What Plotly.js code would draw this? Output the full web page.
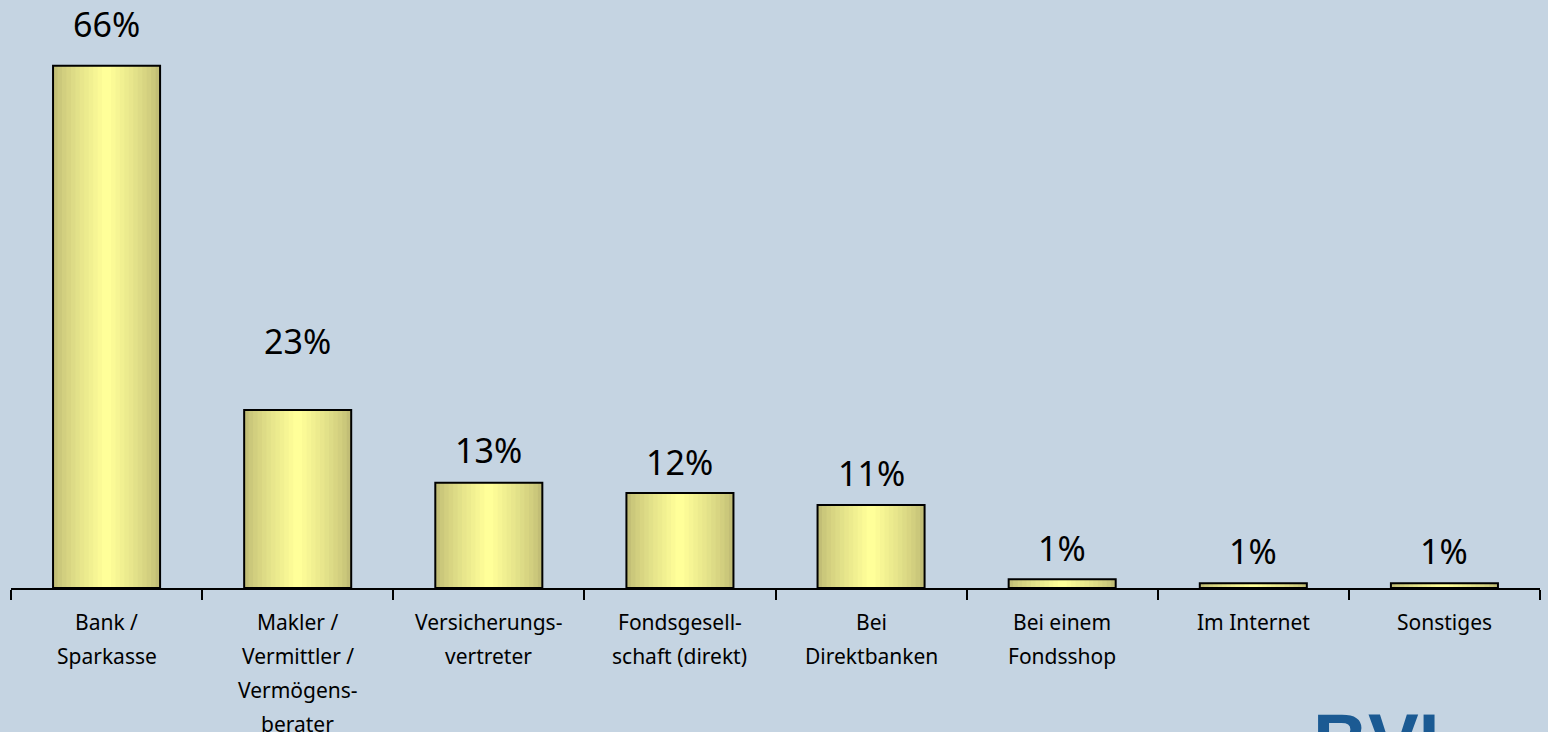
<!DOCTYPE html>
<html>
<head>
<meta charset="utf-8">
<script src="https://cdn.plot.ly/plotly-3.0.1.min.js"></script>
<style>
  html, body { margin: 0; padding: 0; background: #C5D4E2; }
  #chart { width: 1548px; height: 732px; }
</style>
</head>
<body>
<div id="chart"></div>
<script>
// ---- data ----
var categories = [
  "Bank /<br>Sparkasse",
  "Makler /<br>Vermittler /<br>Vermögens-<br>berater",
  "Versicherungs-<br>vertreter",
  "Fondsgesell-<br>schaft (direkt)",
  "Bei<br>Direktbanken",
  "Bei einem<br>Fondsshop",
  "Im Internet",
  "Sonstiges"
];
var values = [66, 22.5, 13.3, 12.0, 10.5, 1.1, 0.6, 0.6];
var valueLabels = ["66%", "23%", "13%", "12%", "11%", "1%", "1%", "1%"];

// ---- styling ----
var BG = "#C5D4E2";
var BAR_WIDTH = 0.56;
var DARK = [194, 190, 118];
var LIGHT = [255, 255, 153];
var LAYERS = 12;
var labelShift = [42, 69, 33, 31, 32, 31, 32, 32];

var traces = [];
for (var k = 0; k < LAYERS; k++) {
  var t = k / (LAYERS - 1);
  var e = Math.pow(t, 0.8);
  var c = DARK.map(function (d, i) { return Math.round(d + (LIGHT[i] - d) * e); });
  traces.push({
    type: "bar",
    x: categories,
    y: values,
    width: BAR_WIDTH * (1 - k / LAYERS),
    marker: { color: "rgb(" + c.join(",") + ")", line: { width: 0 } },
    hoverinfo: "skip",
    showlegend: false
  });
}
// outline
traces.push({
  type: "bar",
  x: categories,
  y: values,
  width: BAR_WIDTH,
  marker: { color: "rgba(0,0,0,0)", line: { color: "#000000", width: 2 } },
  hoverinfo: "skip",
  showlegend: false
});

var annotations = [];
categories.forEach(function (cat, i) {
  annotations.push({
    x: cat, xref: "x", y: values[i], yref: "y",
    text: valueLabels[i], showarrow: false,
    yanchor: "middle", yshift: labelShift[i],
    font: { family: "Noto Sans, DejaVu Sans, sans-serif", size: 34, color: "#000000" }
  });
  cat.split("<br>").forEach(function (line, j) {
    annotations.push({
      x: cat, xref: "x", y: 0, yref: "paper",
      text: line, showarrow: false,
      yanchor: "middle", yshift: -(34 + 34 * j),
      font: { family: "Noto Sans, DejaVu Sans, sans-serif", size: 21, color: "#000000" }
    });
  });
});
// logo
annotations.push({
  x: 0.850, xref: "paper", xanchor: "left",
  y: -0.184, yref: "paper", yanchor: "top",
  text: "<b>BVI</b>", showarrow: false,
  font: { family: "Liberation Sans, Arial, sans-serif", size: 76, color: "#1B5A93" }
});

var layout = {
  width: 1548, height: 732,
  margin: { l: 11, r: 8, t: 0, b: 144 },
  paper_bgcolor: BG, plot_bgcolor: BG,
  barmode: "overlay",
  showlegend: false,
  xaxis: {
    type: "category",
    showticklabels: false,
    tickson: "boundaries",
    ticks: "outside", ticklen: 10, tickwidth: 2, tickcolor: "#000000",
    showline: true, linecolor: "#000000", linewidth: 2,
    showgrid: false, zeroline: false, fixedrange: true
  },
  yaxis: {
    range: [0, 74.3], visible: false, showgrid: false, zeroline: false, fixedrange: true
  },
  annotations: annotations
};

Plotly.newPlot("chart", traces, layout, { displayModeBar: false, staticPlot: true });
</script>
</body>
</html>
